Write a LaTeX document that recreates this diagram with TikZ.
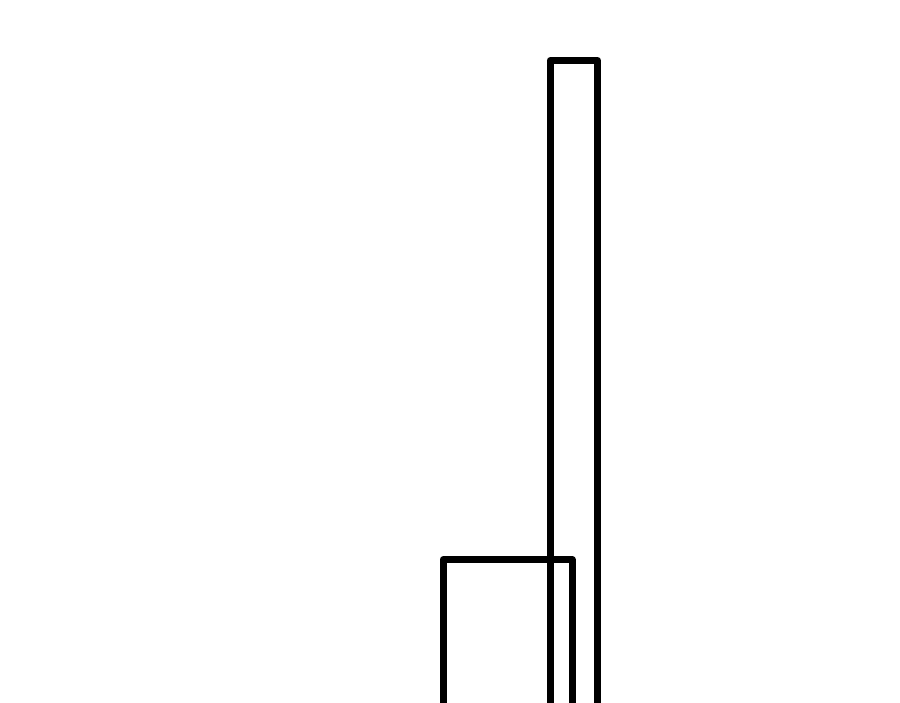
\documentclass[tikz,border=0pt]{standalone}
\begin{document}
\begin{tikzpicture}[x=1pt,y=-1pt,
  outline/.style={draw=black,line width=7pt,line join=round,line cap=butt}]
\useasboundingbox (0,0) rectangle (900,703);
\fill[white] (0,0) rectangle (900,703);
\clip (0,0) rectangle (900,703);
% tall rectangle
\draw[outline] (550,720) -- (550,60.5) -- (597.5,60.5) -- (597.5,720);
% small rectangle
\draw[outline] (443,720) -- (443,559.5) -- (572,559.5) -- (572,720);
\end{tikzpicture}
\end{document}
